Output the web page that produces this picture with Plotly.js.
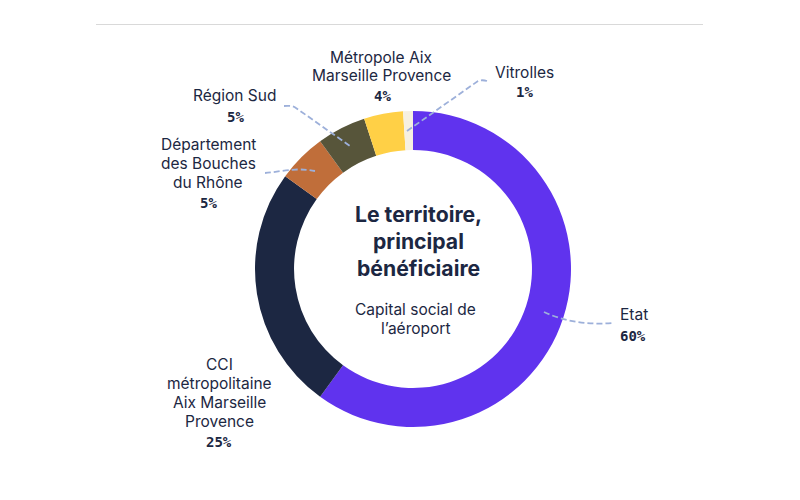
<!DOCTYPE html>
<html><head><meta charset="utf-8">
<script src="https://cdn.plot.ly/plotly-3.0.1.min.js"></script>
<style>html,body{margin:0;padding:0;background:#fff}#c{width:800px;height:500px}</style>
</head><body><div id="c"></div>
<script>
const categories = ["Etat","CCI métropolitaine Aix Marseille Provence","Département des Bouches du Rhône","Région Sud","Métropole Aix Marseille Provence","Vitrolles"];
const values = [60,25,5,5,4,1];
const colors = ["#6033EE","#1C2742","#C06E3A","#57553A","#FFD046","#F6F0E1"];
const W=800,H=500;
const INK="#1C2742", DASH="#9DB0DA";
const px=x=>x/W, py=y=>1-y/H;

// label lines: [text, centre x, centre y]
const labelLines = [
 ["Métropole Aix",381,57.5],["Marseille Provence",381,75.5],
 ["Vitrolles",524,72],
 ["Région Sud",234.5,95.5],
 ["Département",208,144.5],["des Bouches",208,163.5],["du Rhône",208,182.5],
 ["Etat",634,314],
 ["CCI",219,364],["métropolitaine",219,383],["Aix Marseille",219,402],["Provence",219,421]
];
const pctLines = [
 ["4%",382,96],["1%",524,92],["5%",235,117],["5%",208,203],["60%",633,336],["25%",219,442]
];
const titleLines = [["Le territoire,",418,214],["principal",418,241],["bénéficiaire",418,268]];
const subLines = [["Capital social de",415,309],["l’aéroport",415,328]];
const leaders = [
 "M 284 106 C 290 106 292 105 296 108 L 350 146",
 "M 265 173 C 280 172 295 167 315 171",
 "M 407 131 L 478 81 C 480 80 484 80 487 81",
 "M 544 312 C 565 322 590 325 613 323"
];

function ann(list,font){
  return list.map(([t,x,y])=>({text:t,x:px(x),y:py(y),xref:"paper",yref:"paper",xanchor:"center",yanchor:"middle",showarrow:false,font:font}));
}
const annotations=[].concat(
 ann(labelLines,{family:"Inter",size:15.5,color:INK}),
 ann(pctLines,{family:"DejaVu Sans Mono",size:14,color:INK,weight:700}),
 ann(titleLines,{family:"Inter",size:21.2,color:INK,weight:700}),
 ann(subLines,{family:"Inter",size:15.5,color:INK})
);
const shapes=[{type:"line",xref:"paper",yref:"paper",x0:px(96),x1:px(703),y0:py(24.5),y1:py(24.5),line:{color:"#D9D9D9",width:1}}]
 .concat(leaders.map(d=>({type:"path",xref:"x",yref:"y",path:d,line:{color:DASH,width:1.8,dash:"6px,3px"},layer:"above"})));

Plotly.newPlot("c",[{
  type:"pie",labels:categories,values:values,sort:false,direction:"clockwise",rotation:0,hole:0.753,
  marker:{colors:colors,line:{width:0}},textinfo:"none",hoverinfo:"label+percent",showlegend:false,
  domain:{x:[px(255),px(571)],y:[py(427),py(111)]}
}],{
  width:W,height:H,margin:{l:0,r:0,t:0,b:0},paper_bgcolor:"#fff",plot_bgcolor:"rgba(0,0,0,0)",showlegend:false,
  xaxis:{range:[0,W],visible:false,fixedrange:true},yaxis:{range:[H,0],visible:false,fixedrange:true},
  annotations:annotations,shapes:shapes
},{displayModeBar:false});
</script></body></html>
